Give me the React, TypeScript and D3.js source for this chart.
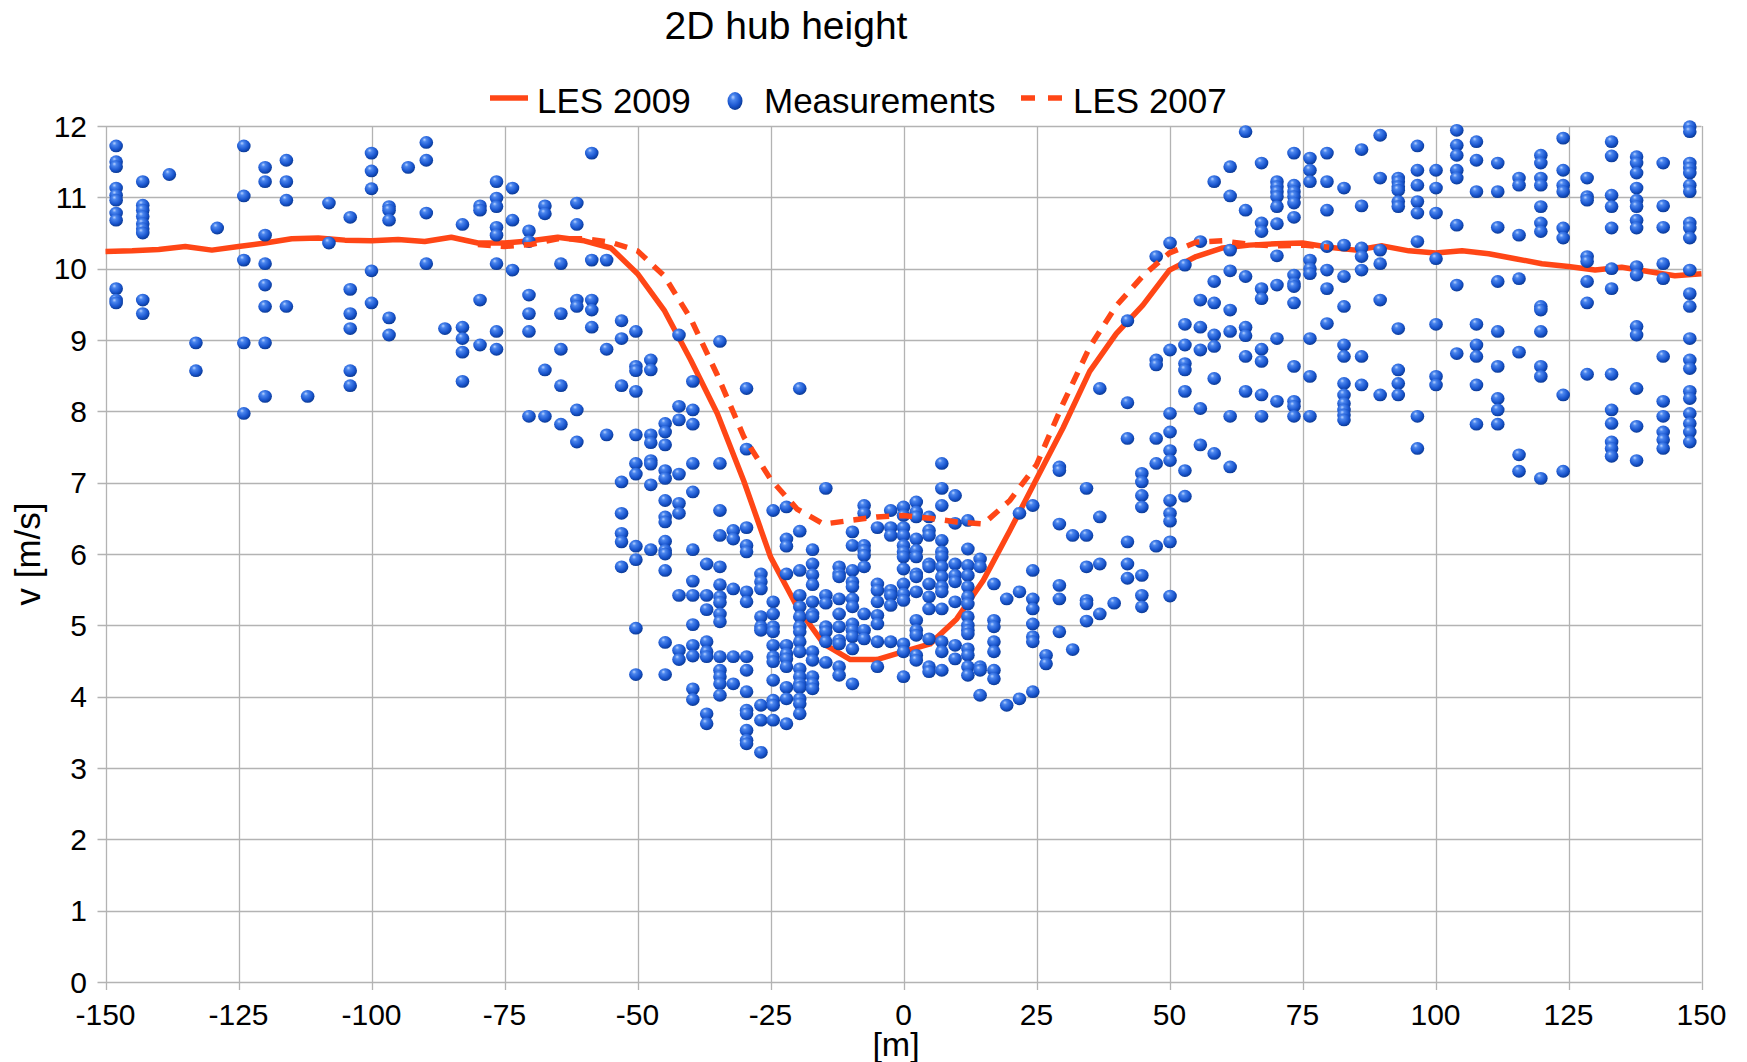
import * as d3 from "d3";

// chart values
const xTicks = [-150, -125, -100, -75, -50, -25, 0, 25, 50, 75, 100, 125, 150];
const yTicks = [0, 1, 2, 3, 4, 5, 6, 7, 8, 9, 10, 11, 12];

// LES 2009 profile [x (m), v (m/s)]
const les2009: [number, number][] = [
  [-150, 10.24], [-145, 10.25], [-140, 10.27], [-135, 10.31], [-130, 10.26], [-125, 10.31],
  [-120, 10.36], [-115, 10.42], [-110, 10.43], [-105, 10.4], [-100, 10.39], [-95, 10.41],
  [-90, 10.38], [-85, 10.44], [-80, 10.36], [-75, 10.36], [-70, 10.39], [-65, 10.44],
  [-60, 10.39], [-55, 10.29], [-50, 9.93], [-45, 9.42], [-40, 8.72], [-35, 7.97],
  [-30, 7.02], [-25, 5.96], [-20, 5.26], [-15, 4.74], [-10, 4.52], [-5, 4.52],
  [0, 4.63], [5, 4.74], [10, 5.09], [15, 5.63], [20, 6.33], [25, 7.05],
  [30, 7.77], [35, 8.56], [40, 9.09], [45, 9.49], [50, 9.98], [55, 10.17],
  [60, 10.29], [65, 10.33], [70, 10.35], [75, 10.36], [80, 10.3], [85, 10.26],
  [90, 10.32], [95, 10.25], [100, 10.22], [105, 10.25], [110, 10.21], [115, 10.14],
  [120, 10.07], [125, 10.03], [130, 9.98], [135, 10.02], [140, 9.96], [145, 9.9],
  [150, 9.93],
];

// LES 2007 profile [x (m), v (m/s)]
const les2007: [number, number][] = [
  [-80, 10.34], [-75, 10.31], [-70, 10.34], [-65, 10.42], [-60, 10.42], [-55, 10.37],
  [-50, 10.25], [-45, 9.9], [-40, 9.3], [-35, 8.51], [-30, 7.64], [-25, 7.05],
  [-20, 6.63], [-15, 6.42], [-10, 6.47], [-5, 6.52], [0, 6.54], [5, 6.5],
  [10, 6.45], [15, 6.42], [20, 6.75], [25, 7.25], [30, 8.11], [35, 8.9],
  [40, 9.48], [45, 9.9], [50, 10.22], [55, 10.37], [60, 10.39], [65, 10.34],
  [70, 10.32], [75, 10.33], [80, 10.3],
];

// measurements, one entry per probe column: [x (m), ...v (m/s)]
const measLeft: number[][] = [
  [-148, 11.72, 11.5, 11.43, 11.13, 11.03, 10.96, 10.78, 10.68, 9.72, 9.56, 9.52],
  [-143, 11.22, 10.89, 10.82, 10.73, 10.63, 10.56, 10.5, 9.56, 9.37],
  [-138, 11.32],
  [-133, 8.96, 8.57],
  [-129, 10.57],
  [-124, 11.72, 11.02, 10.12, 8.96, 7.97],
  [-120, 11.42, 11.22, 10.47, 10.07, 9.77, 9.47, 8.96, 8.21],
  [-116, 11.52, 11.22, 10.96, 9.47],
  [-112, 8.21],
  [-108, 10.92, 10.36],
  [-104, 10.72, 9.71, 9.37, 9.16, 8.57, 8.36],
  [-100, 11.62, 11.37, 11.12, 9.97, 9.52],
  [-96.7, 10.87, 10.82, 10.68, 9.31, 9.07],
  [-93.1, 11.42],
  [-89.7, 11.77, 11.52, 10.78, 10.07],
  [-86.2, 9.16],
  [-82.9, 10.62, 9.18, 9.02, 8.83, 8.42],
  [-79.6, 10.88, 10.82, 9.56, 8.93],
  [-76.5, 11.22, 10.99, 10.87, 10.58, 10.47, 10.07, 9.12, 8.87],
  [-73.5, 11.13, 10.68, 9.98],
  [-70.4, 10.53, 10.38, 9.63, 9.37, 9.12, 7.93],
  [-67.4, 10.88, 10.77, 8.58, 7.93],
  [-64.4, 10.07, 9.37, 8.87, 8.36, 7.82],
  [-61.4, 10.92, 10.62, 9.56, 9.47, 8.02, 7.57],
  [-58.6, 11.62, 10.12, 9.56, 9.42, 9.18],
  [-55.8, 10.12, 8.87, 7.67],
];

const measWake: number[][] = [
  [-53.0, 9.27, 9.02, 8.36, 7.01, 6.57, 6.29, 6.17, 5.82],
  [-50.3, 9.12, 8.63, 8.57, 8.28, 7.67, 7.27, 7.12, 6.11, 5.92, 4.96, 4.31],
  [-47.5, 8.72, 8.58, 7.67, 7.56, 7.31, 7.26, 6.97, 6.06],
  [-44.8, 7.83, 7.71, 7.53, 7.17, 7.06, 6.75, 6.52, 6.45, 6.18, 6.05, 6.0, 5.77, 4.76, 4.31],
  [-42.2, 9.07, 8.07, 7.88, 7.12, 6.71, 6.57, 5.42, 4.65, 4.52],
  [-39.6, 8.42, 8.02, 7.82, 7.27, 6.87, 6.06, 5.62, 5.42, 5.01, 4.72, 4.57, 4.11, 3.96],
  [-37.0, 5.86, 5.42, 5.22, 4.77, 4.63, 4.56, 3.76, 3.62],
  [-34.5, 8.98, 7.27, 6.61, 6.26, 5.82, 5.57, 5.4, 5.32, 5.16, 5.05, 4.56, 4.37, 4.28, 4.18, 4.02],
  [-32.0, 6.33, 6.21, 5.51, 4.56, 4.18],
  [-29.5, 8.32, 7.47, 6.37, 6.12, 6.03, 5.47, 5.33, 4.56, 4.37, 4.07, 3.81, 3.76, 3.53, 3.39, 3.34],
  [-26.8, 5.72, 5.61, 5.51, 5.12, 4.98, 4.93, 3.88, 3.67, 3.22],
  [-24.5, 6.61, 5.33, 5.16, 4.98, 4.91, 4.72, 4.56, 4.49, 4.23, 3.95, 3.88, 3.67],
  [-22.0, 6.66, 6.21, 6.11, 5.72, 4.72, 4.6, 4.53, 4.42, 4.13, 3.97, 3.62],
  [-19.5, 8.32, 6.32, 5.77, 5.42, 5.26, 5.12, 4.98, 4.91, 4.77, 4.63, 4.39, 4.28, 4.18, 4.13, 3.97, 3.9, 3.76],
  [-17.1, 6.06, 5.86, 5.71, 5.57, 5.33, 5.16, 5.12, 4.63, 4.51, 4.28, 4.18, 4.11],
  [-14.6, 6.92, 5.42, 5.31, 4.98, 4.91, 4.77, 4.48],
  [-12.1, 5.82, 5.72, 5.68, 5.37, 5.16, 4.98, 4.79, 4.74, 4.42, 4.3],
  [-9.6, 6.31, 6.12, 5.77, 5.61, 5.54, 5.37, 5.26, 5.02, 4.93, 4.84, 4.67, 4.18],
  [-7.4, 6.68, 6.57, 6.12, 6.05, 5.98, 5.82, 5.16, 4.93, 4.81],
  [-4.9, 6.37, 5.58, 5.49, 5.33, 5.14, 5.02, 4.77, 4.42],
  [-2.4, 6.61, 6.37, 6.26, 5.49, 5.42, 5.28, 4.77],
  [0, 6.66, 6.54, 6.37, 6.26, 6.12, 6.03, 5.96, 5.79, 5.58, 5.44, 5.35, 4.74, 4.63, 4.28],
  [2.4, 6.73, 6.59, 6.52, 6.21, 6.05, 5.96, 5.72, 5.68, 5.47, 5.07, 4.93, 4.86, 4.58, 4.51],
  [4.8, 6.52, 6.33, 6.26, 5.86, 5.82, 5.58, 5.4, 5.23, 4.81, 4.42, 4.35],
  [7.2, 7.27, 6.92, 6.68, 6.19, 6.03, 5.96, 5.82, 5.68, 5.54, 5.47, 5.23, 4.77, 4.63, 4.37],
  [9.7, 6.82, 6.43, 5.86, 5.7, 5.61, 5.33, 4.72, 4.53],
  [12.1, 6.47, 6.07, 5.84, 5.7, 5.54, 5.4, 5.3, 5.12, 5.0, 4.93, 4.88, 4.67, 4.58, 4.42, 4.3],
  [14.4, 5.93, 5.82, 4.42, 4.37, 4.02],
  [17.0, 5.58, 5.07, 4.98, 4.77, 4.63, 4.37, 4.25],
  [19.4, 5.37, 3.88],
  [21.8, 6.57, 5.47, 3.97],
  [24.3, 6.68, 5.77, 5.37, 5.23, 5.02, 4.84, 4.77, 4.07],
  [26.8, 4.58, 4.46],
  [29.3, 7.22, 7.17, 6.42, 5.56, 5.37, 4.91],
  [31.8, 6.26, 4.66],
  [34.4, 6.92, 6.26, 5.82, 5.35, 5.3, 5.06],
  [36.9, 8.32, 6.52, 5.86, 5.16],
  [39.6, 5.31],
  [42.1, 9.27, 8.12, 7.62, 6.17, 5.86, 5.66],
  [44.8, 7.13, 7.01, 6.82, 6.66, 5.7, 5.42, 5.26],
  [47.5, 10.17, 8.72, 8.65, 7.62, 7.27, 6.11],
  [50.1, 10.36, 8.86, 7.97, 7.71, 7.45, 7.31, 6.75, 6.57, 6.46, 6.17, 5.41],
];

const measRight: number[][] = [
  [52.9, 10.05, 9.22, 8.93, 8.67, 8.58, 8.28, 7.17, 6.81],
  [55.8, 10.38, 9.56, 9.18, 8.86, 8.04, 7.53],
  [58.4, 11.22, 9.82, 9.52, 9.07, 8.91, 8.46, 7.41],
  [61.4, 11.43, 11.02, 10.26, 9.97, 9.42, 9.12, 7.93, 7.22],
  [64.3, 11.92, 10.82, 9.89, 9.18, 9.06, 8.77, 8.28],
  [67.3, 11.48, 10.64, 10.52, 9.72, 9.58, 8.87, 8.7, 8.23, 7.93],
  [70.2, 11.22, 11.15, 11.08, 11.01, 10.87, 10.63, 10.18, 9.77, 9.02, 8.14],
  [73.4, 11.62, 11.17, 11.08, 11.01, 10.92, 10.72, 9.91, 9.79, 9.75, 9.52, 8.63, 8.14, 8.07, 7.93],
  [76.4, 11.55, 11.38, 11.22, 10.12, 10.0, 9.93, 9.02, 8.49, 7.93],
  [79.6, 11.62, 11.22, 10.82, 10.31, 9.98, 9.72, 9.23],
  [82.8, 11.13, 10.33, 9.89, 9.47, 8.93, 8.77, 8.39, 8.23, 8.11, 8.02, 7.95, 7.88],
  [86.1, 11.67, 10.88, 10.29, 10.17, 9.98, 8.77, 8.37],
  [89.6, 11.87, 11.27, 10.26, 10.07, 9.56, 8.23],
  [93.0, 11.27, 11.22, 11.15, 11.1, 10.94, 10.87, 9.16, 8.58, 8.39, 8.23],
  [96.6, 11.72, 11.38, 11.17, 10.94, 10.78, 10.38, 7.93, 7.48],
  [100.1, 11.38, 11.13, 10.78, 10.14, 9.22, 8.49, 8.37],
  [104.0, 11.94, 11.73, 11.59, 11.38, 11.27, 10.61, 9.77, 8.81],
  [107.7, 11.78, 11.52, 11.08, 9.22, 8.93, 8.77, 8.37, 7.82],
  [111.7, 11.48, 11.08, 10.58, 9.82, 9.12, 8.63, 8.18, 8.02, 7.82],
  [115.7, 11.27, 11.17, 10.47, 9.86, 8.83, 7.39, 7.16],
  [119.8, 11.59, 11.48, 11.27, 11.17, 10.87, 10.64, 10.52, 9.47, 9.42, 9.12, 8.63, 8.49, 7.06],
  [124.0, 11.83, 11.38, 11.17, 11.08, 10.57, 10.43, 8.23, 7.16],
  [128.5, 11.27, 11.01, 10.96, 10.17, 10.1, 9.82, 9.52, 8.52],
  [133.1, 11.78, 11.58, 11.03, 10.87, 10.57, 10.0, 9.72, 8.52, 8.02, 7.83, 7.57, 7.48, 7.37],
  [137.8, 11.57, 11.48, 11.34, 11.13, 10.96, 10.87, 10.68, 10.57, 10.03, 9.91, 9.19, 9.07, 8.32, 7.79, 7.31],
  [142.8, 11.48, 10.88, 10.58, 10.07, 9.86, 8.77, 8.14, 7.93, 7.71, 7.6, 7.48],
  [147.8, 11.99, 11.92, 11.48, 11.41, 11.34, 11.17, 11.08, 10.64, 10.57, 10.43, 9.98, 9.65, 9.47, 9.02, 8.72, 8.6, 8.28, 8.18, 7.97, 7.83, 7.71, 7.57],
];

const W = 1747;
const H = 1062;
const plot = { left: 105.5, right: 1701.5, top: 126, bottom: 982 };
const LINE = "#ff4616";
const GRID = "#b3b3b3";
const FONT = "'Liberation Sans', Arial, sans-serif";

export default function App() {
  const x = d3.scaleLinear().domain([-150, 150]).range([plot.left, plot.right]);
  const y = d3.scaleLinear().domain([0, 12]).range([plot.bottom, plot.top]);

  const line = d3
    .line<[number, number]>()
    .x((d) => x(d[0]))
    .y((d) => y(d[1]));

  // flatten the columns into single points
  const points: [number, number][] = [];
  [...measLeft, ...measWake, ...measRight].forEach((col) => {
    col.slice(1).forEach((v) => points.push([col[0], v]));
  });

  return (
    <div style={{ position: "absolute", left: 0, top: 0 }}>
      <svg width={W} height={H} style={{ display: "block", background: "#fff" }} fontFamily={FONT}>
        <defs>
          <radialGradient id="ball" cx="42%" cy="38%" r="62%" fx="36%" fy="28%">
            <stop offset="0%" stopColor="#b8d2ff" />
            <stop offset="25%" stopColor="#4b86ee" />
            <stop offset="70%" stopColor="#1a56cf" />
            <stop offset="100%" stopColor="#0a3994" />
          </radialGradient>
        </defs>

        {/* grid */}
        {yTicks.map((t) => (
          <line key={"gy" + t} x1={plot.left - 8} x2={plot.right} y1={Math.round(y(t)) + 0.5} y2={Math.round(y(t)) + 0.5} stroke={GRID} strokeWidth={1.3} />
        ))}
        {xTicks.map((t) => (
          <line key={"gx" + t} x1={Math.round(x(t)) + 0.5} x2={Math.round(x(t)) + 0.5} y1={plot.top} y2={plot.bottom + 8} stroke={GRID} strokeWidth={1.3} />
        ))}

        {/* tick labels */}
        {yTicks.map((t) => (
          <text key={"ly" + t} x={87} y={y(t)} dy="0.36em" textAnchor="end" fontSize={30} fill="#000">
            {t}
          </text>
        ))}
        {xTicks.map((t) => (
          <text key={"lx" + t} x={x(t)} y={1025} textAnchor="middle" fontSize={30} fill="#000">
            {t}
          </text>
        ))}

        {/* series */}
        <path d={line(les2009) || ""} fill="none" stroke={LINE} strokeWidth={5.5} strokeLinejoin="round" />
        {points.map((p, i) => (
          <ellipse key={"m" + i} cx={x(p[0])} cy={y(p[1])} rx={6.8} ry={6.4} fill="url(#ball)" />
        ))}
        <path d={line(les2007) || ""} fill="none" stroke={LINE} strokeWidth={5.5} strokeDasharray="13 10" />

        {/* titles */}
        <text x={786} y={39} textAnchor="middle" fontSize={39} fill="#000">
          2D hub height
        </text>
        <text x={896} y={1056} textAnchor="middle" fontSize={34} fill="#000">
          [m]
        </text>
        <text transform="translate(40,554) rotate(-90)" textAnchor="middle" fontSize={35} fill="#000">
          v [m/s]
        </text>

        {/* legend */}
        <g>
          <line x1={490} x2={528} y1={98} y2={98} stroke={LINE} strokeWidth={5.5} />
          <text x={537} y={113} fontSize={35} fill="#000">LES 2009</text>
          <ellipse cx={735} cy={101} rx={7.5} ry={9} fill="url(#ball)" />
          <text x={764} y={113} fontSize={35} fill="#000">Measurements</text>
          <line x1={1021} x2={1063} y1={98} y2={98} stroke={LINE} strokeWidth={5.5} strokeDasharray="14 13" />
          <text x={1073} y={113} fontSize={35} fill="#000">LES 2007</text>
        </g>
      </svg>
    </div>
  );
}
